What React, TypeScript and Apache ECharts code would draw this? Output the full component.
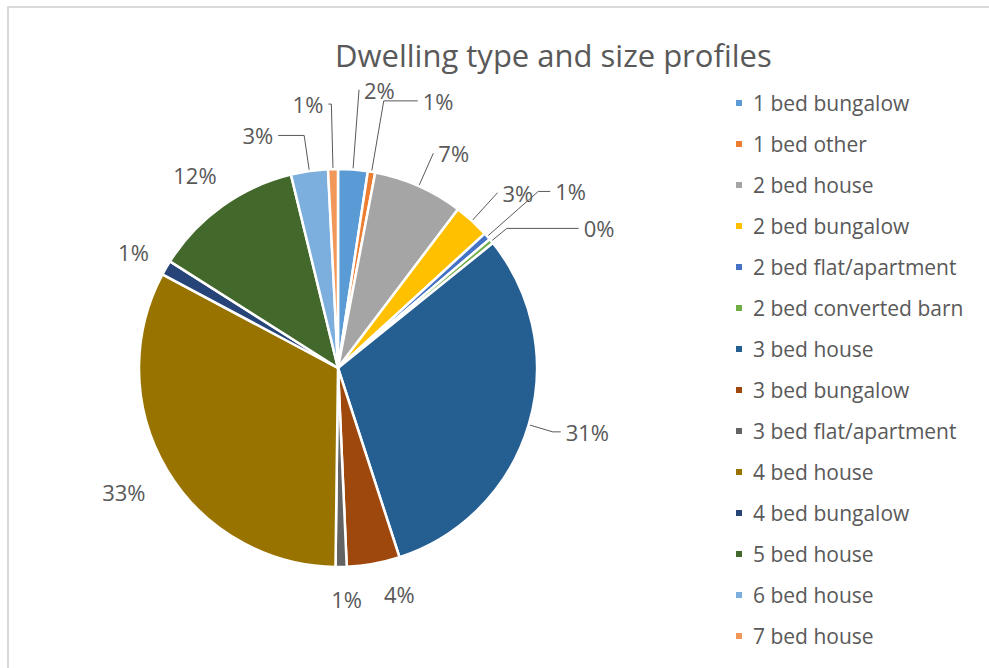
import React, { useEffect, useRef } from "react";
import * as echarts from "echarts";

const categories = [
  "1 bed bungalow",
  "1 bed other",
  "2 bed house",
  "2 bed bungalow",
  "2 bed flat/apartment",
  "2 bed converted barn",
  "3 bed house",
  "3 bed bungalow",
  "3 bed flat/apartment",
  "4 bed house",
  "4 bed bungalow",
  "5 bed house",
  "6 bed house",
  "7 bed house",
];

// share of dwellings (%)
const values = [2.4, 0.6, 7.3, 2.9, 0.6, 0.4, 30.8, 4.3, 0.9, 32.6, 1.2, 12.2, 3.0, 0.8];

const colors = [
  "#5B9BD5", "#ED7D31", "#A5A5A5", "#FFC000", "#4472C4", "#70AD47", "#255E91",
  "#9E480E", "#636363", "#997300", "#264478", "#43682B", "#7CAFDD", "#F1975A",
];

// label styling (leader line lengths / visibility / alignment)
const leadLen = [80, 72, 36, 38, 68, 20, 25, 31, 32, 44, 32, 38, 36, 65];
const leadLen2 = [0, 34, 0, 0, 12, 72, 8, 0, 0, 0, 0, 0, 26, 3];
const leadShow = [true, true, true, true, true, true, true, false, false, false, false, false, true, true];
const centred = [false, false, false, false, false, false, false, false, true, true, true, true, false, false];

const FONT = "'Open Sans', 'Noto Sans', sans-serif";
const GREY = "#595959";

export default function App() {
  const ref = useRef<HTMLDivElement>(null);
  useEffect(() => {
    if (!ref.current) return;
    const chart = echarts.init(ref.current, null, { renderer: "svg" });
    const data = categories.map((name, i) => ({
      name,
      value: values[i],
      itemStyle: { color: colors[i] },
      labelLine: { show: leadShow[i], length: leadLen[i], length2: leadLen2[i] },
    }));
    chart.setOption({
      animation: false,
      backgroundColor: "#fff",
      title: {
        text: "Dwelling type and size profiles",
        left: 330,
        top: 34,
        textStyle: { fontFamily: FONT, fontSize: 31, fontWeight: "normal", color: GREY },
      },
      legend: {
        orient: "vertical",
        left: 729,
        top: 87,
        icon: "rect",
        itemWidth: 8,
        itemHeight: 8,
        itemGap: 19,
        data: categories,
        textStyle: { fontFamily: FONT, fontSize: 21, color: GREY, lineHeight: 22, padding: [0, 0, 0, 5] },
      },
      graphic: [
        { type: "line", shape: { x1: 7, y1: 7, x2: 989, y2: 7 }, style: { stroke: "#D9D9D9", lineWidth: 2 } },
        { type: "line", shape: { x1: 8, y1: 6, x2: 8, y2: 668 }, style: { stroke: "#D9D9D9", lineWidth: 2 } },
      ],
      series: [
        {
          type: "pie",
          center: [338, 368],
          radius: 199,
          startAngle: 90,
          clockwise: true,
          avoidLabelOverlap: false,
          itemStyle: { borderColor: "#fff", borderWidth: 2.5 },
          label: {
            show: true,
            position: "outside",
            formatter: (p: any) => Math.round(p.percent) + "%",
            fontFamily: FONT,
            fontSize: 22,
            color: GREY,
          },
          labelLine: { lineStyle: { color: GREY, width: 1 }, smooth: false },
          labelLayout: (p: any) => (centred[p.dataIndex] ? { align: "center" } : {}),
          emphasis: { disabled: true },
          data,
        },
      ],
    });
    return () => chart.dispose();
  }, []);
  return (
    <div
      ref={ref}
      style={{ position: "fixed", left: 0, top: 0, width: 989, height: 668, background: "#fff" }}
    />
  );
}
